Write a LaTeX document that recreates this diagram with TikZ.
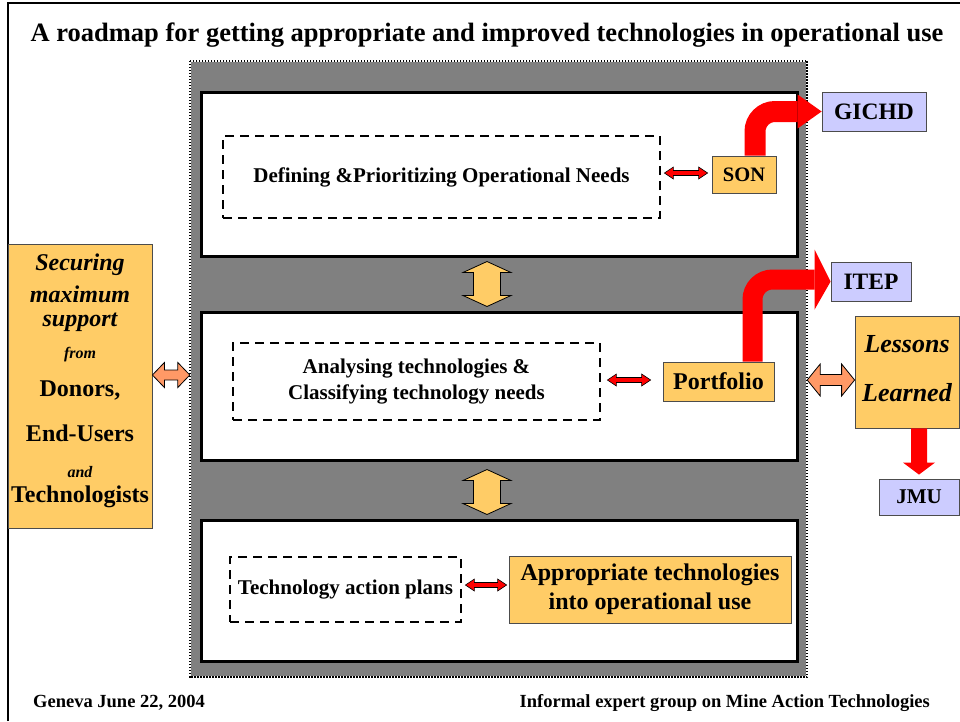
\documentclass[tikz,border=0pt]{standalone}
\usepackage{fontspec}
\setmainfont{Liberation Serif}
\usetikzlibrary{calc}
\definecolor{boxorange}{RGB}{255,204,102}
\definecolor{lav}{RGB}{204,204,255}
\definecolor{salmon}{RGB}{255,153,102}
\definecolor{midgray}{RGB}{128,128,128}
\newcommand\fs[1]{\fontsize{#1}{#1}\selectfont}
% horizontal double block arrow: start, end, shaft half, head half, head length, style
\newcommand\hdarrow[6]{%
\path[#6] let \p1=(#1), \p2=(#2) in
 (\x1,\y1) -- (\x1+#5,\y1+#4) -- (\x1+#5,\y1+#3) -- (\x2-#5,\y1+#3) -- (\x2-#5,\y1+#4)
 -- (\x2,\y1) -- (\x2-#5,\y1-#4) -- (\x2-#5,\y1-#3) -- (\x1+#5,\y1-#3) -- (\x1+#5,\y1-#4) -- cycle;}
% vertical double block arrow: top, bottom, shaft half, head half, head length, style
\newcommand\vdarrow[6]{%
\path[#6] let \p1=(#1), \p2=(#2) in
 (\x1,\y1) -- (\x1+#4,\y1-#5) -- (\x1+#3,\y1-#5) -- (\x1+#3,\y2+#5) -- (\x1+#4,\y2+#5)
 -- (\x1,\y2) -- (\x1-#4,\y2+#5) -- (\x1-#3,\y2+#5) -- (\x1-#3,\y1-#5) -- (\x1-#4,\y1-#5) -- cycle;}
\tikzset{
 panel/.style={draw=black, line width=3pt, fill=white, inner sep=0pt},
 dbox/.style={draw=black, line width=2.8pt, dash pattern=on 9pt off 6pt, fill=white, inner sep=0pt, align=center, font=\fontsize{21}{26}\selectfont\bfseries},
 obox/.style={draw=black!70, line width=0.8pt, fill=boxorange, inner sep=0pt, align=center},
 lbox/.style={draw=black!70, line width=0.8pt, fill=lav, inner sep=0pt, font=\fs{23.5}\bfseries},
 redsmall/.style={fill=red, draw=black, line width=0.6pt},
 yarrow/.style={fill=boxorange, draw=black, line width=0.8pt},
 sarrow/.style={fill=salmon, draw=black, line width=0.8pt},
 bigred/.style={draw=red, line width=21pt, rounded corners=20pt},
 redhead/.style={fill=red},
 lefttxt/.style={inner sep=0pt, font=\fs{24}\bfseries},
 leftsmall/.style={inner sep=0pt, font=\fs{16}\bfseries\itshape},
 foot/.style={inner sep=0pt, font=\fs{18.5}\bfseries, anchor=base west},
}
\begin{document}
\begin{tikzpicture}[x=1pt,y=-1pt]
\useasboundingbox (0,0) rectangle (960,721);
\draw[line width=2pt] (8,721) -- (8,3) -- (960,3);
\node[font=\fs{26.5}\bfseries, inner sep=0pt] (title) at (487,35) {A roadmap for getting appropriate and improved technologies in operational use};

% outer grey area
\node[fill=midgray, minimum width=617, minimum height=616, inner sep=0pt] (outer) at (498.5,369) {};
\draw[white, line width=2.5pt] (outer.north west) rectangle (outer.south east);
\draw[black, line width=2.5pt, dash pattern=on 1.5pt off 1.5pt] (outer.north west) rectangle (outer.south east);

% panels
\node[panel, minimum width=596, minimum height=164] (p1) at (499,174) {};
\node[panel, minimum width=596, minimum height=148] (p2) at (499,386) {};
\node[panel, minimum width=596, minimum height=141] (p3) at (499,590.5) {};

% panel 1
\node[dbox, minimum width=437, minimum height=82] (d1) at (441.5,177) {Defining \&Prioritizing Operational Needs};
\node[obox, minimum width=64, minimum height=37, font=\fs{20.5}\bfseries] (son) at (744,174.5) {SON};
\node[lbox, minimum width=104, minimum height=39] (gichd) at (874,111.5) {GICHD};

% panel 2
\node[dbox, minimum width=367, minimum height=77] (d2) at (416.5,381.5) {Analysing technologies \&\\Classifying technology needs};
\node[obox, minimum width=111, minimum height=39, font=\fs{24}\bfseries] (portfolio) at (718.5,381.5) {Portfolio};
\node[lbox, minimum width=80, minimum height=39] (itep) at (871,281.5) {ITEP};
\node[obox, minimum width=104, minimum height=112] (lessons) at (907,372) {};
\node[inner sep=0pt, font=\fs{26}\bfseries\itshape] (les1) at (907,344) {Lessons};
\node[inner sep=0pt, font=\fs{26}\bfseries\itshape] (les2) at (907,393) {Learned};
\node[lbox, minimum width=80, minimum height=36, font=\fs{21}\bfseries] (jmu) at (919,497) {JMU};

% panel 3
\node[dbox, minimum width=231, minimum height=65] (d3) at (345.5,589.5) {Technology action plans};
\node[obox, minimum width=282, minimum height=67, font=\fontsize{24}{29}\selectfont\bfseries] (appr) at (650,589.5) {Appropriate technologies\\into operational use};

% left box
\node[obox, minimum width=144, minimum height=284] (left) at (80,386) {};
\node[lefttxt, font=\fs{24}\bfseries\itshape] (l1) at (80,265) {Securing};
\node[lefttxt, font=\fs{24}\bfseries\itshape] (l2) at (80,294) {maximum};
\node[lefttxt, font=\fs{24}\bfseries\itshape] (l3) at (80,322) {support};
\node[leftsmall] (l4) at (80,355) {from};
\node[lefttxt] (l5) at (80,390) {Donors,};
\node[lefttxt] (l6) at (80,433) {End-Users};
\node[leftsmall] (l7) at (80,472) {and};
\node[lefttxt] (l8) at (80,497) {Technologists};

% small red double arrows
\coordinate (a1s) at ($(d1.east |- 0,173)+(3,0)$);
\coordinate (a1e) at ($(son.west |- 0,173)+(-4,0)$);
\hdarrow{a1s}{a1e}{2.5pt}{6pt}{9pt}{redsmall}
\coordinate (a2s) at ($(d2.east |- 0,380)+(6,0)$);
\coordinate (a2e) at ($(portfolio.west |- 0,380)+(-12,0)$);
\hdarrow{a2s}{a2e}{2.5pt}{6pt}{9pt}{redsmall}
\coordinate (a3s) at ($(d3.east |- 0,585)+(3,0)$);
\coordinate (a3e) at ($(appr.west |- 0,585)+(-2,0)$);
\hdarrow{a3s}{a3e}{2.5pt}{6pt}{9pt}{redsmall}

% yellow vertical double arrows
\coordinate (y1t) at ($(p1.south)+(-12,4)$);
\coordinate (y1b) at ($(p2.north)+(-12,-4)$);
\vdarrow{y1t}{y1b}{13.5pt}{24pt}{11pt}{yarrow}
\coordinate (y2t) at ($(p2.south)+(-12,8)$);
\coordinate (y2b) at ($(p3.north)+(-12,-4)$);
\vdarrow{y2t}{y2b}{13.5pt}{24pt}{11pt}{yarrow}

% salmon double arrows
\coordinate (s1s) at (left.east |- 0,375);
\coordinate (s1e) at (outer.west |- 0,375);
\hdarrow{s1s}{s1e}{5pt}{12.5pt}{12pt}{sarrow}
\coordinate (s2s) at (outer.east |- 0,380);
\coordinate (s2e) at (lessons.west |- 0,380);
\hdarrow{s2s}{s2e}{5.5pt}{16pt}{13pt}{sarrow}

% big red arrows
\coordinate (g1) at ($(gichd.west)+(-24,0)$);
\draw[bigred] ($(son.north)+(11,0)$) |- (g1);
\path[redhead] let \p1=(g1), \p2=(gichd.west) in (\x1,\y1+17pt) -- (\x2,\y2) -- (\x1,\y1-17pt) -- cycle;
\coordinate (g2) at ($(itep.west)+(-16,-2)$);
\draw[bigred, line width=20pt] ($(portfolio.north)+(34,0)$) |- (g2);
\path[redhead] let \p1=(g2), \p2=(itep.west) in (\x1,\y1+30pt) -- (\x2,\y2) -- (\x1,\y1-30pt) -- cycle;
\coordinate (j1) at (jmu.north |- lessons.south);
\coordinate (j2) at ($(jmu.north)+(0,-4)$);
\path[redhead] let \p1=(j1), \p2=(j2) in (\x1-8pt,\y1) -- (\x1+8pt,\y1) -- (\x1+8pt,\y2+12pt) -- (\x1+16pt,\y2+12pt) -- (\x2,\y2) -- (\x1-16pt,\y2+12pt) -- (\x1-8pt,\y2+12pt) -- cycle;

% footer
\node[foot] (f1) at (33,707) {Geneva June 22, 2004};
\node[foot, anchor=base east] (f2) at (930,707) {Informal expert group on Mine Action Technologies};
\end{tikzpicture}
\end{document}
